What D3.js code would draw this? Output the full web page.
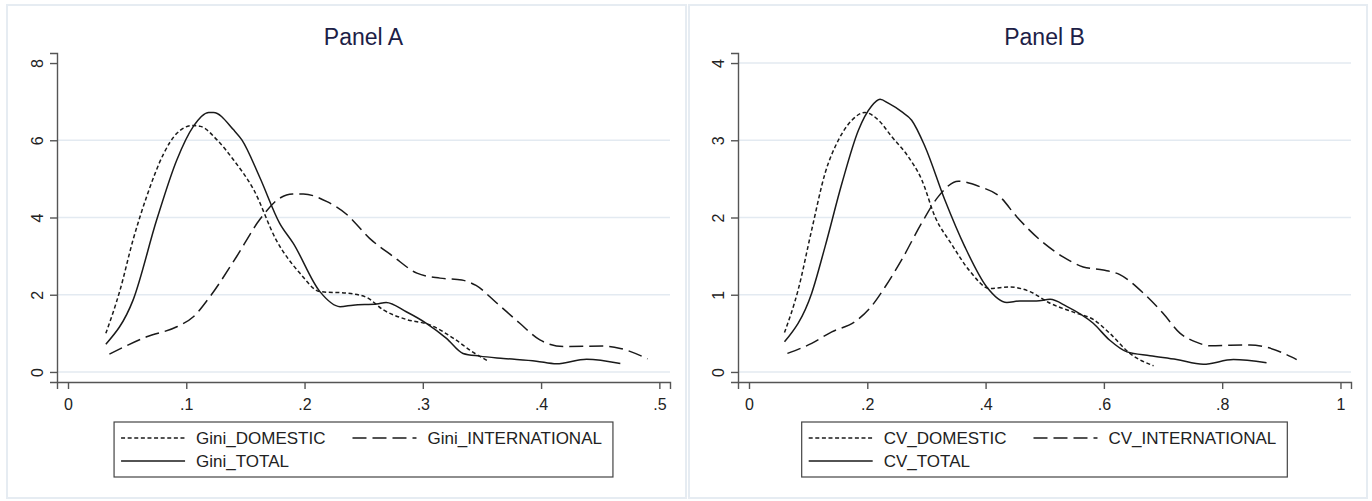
<!DOCTYPE html>
<html>
<head>
<meta charset="utf-8">
<script src="https://cdn.jsdelivr.net/npm/d3@7"></script>
<style>
  body { margin: 0; background: #fff; }
  svg { display: block; font-family: "Liberation Sans", Arial, sans-serif; }
</style>
</head>
<body>
<svg id="chart" width="1372" height="501"></svg>
<script>
// --- data: [x, density] ---
const giniDomestic = [[0.032,1.0],[0.044,2.12],[0.055,3.42],[0.0665,4.54],[0.081,5.66],[0.092,6.18],[0.105,6.38],[0.112,6.36],[0.126,6.01],[0.140,5.49],[0.157,4.72],[0.176,3.42],[0.196,2.56],[0.213,2.08],[0.236,2.04],[0.2525,1.93],[0.2665,1.61],[0.286,1.36],[0.306,1.22],[0.326,0.87],[0.343,0.50],[0.356,0.27]];
const giniInternational = [[0.035,0.46],[0.0665,0.91],[0.092,1.17],[0.106,1.43],[0.12,1.95],[0.1426,2.99],[0.162,3.94],[0.179,4.50],[0.19,4.61],[0.199,4.61],[0.219,4.41],[0.236,4.07],[0.255,3.46],[0.275,2.99],[0.295,2.56],[0.3145,2.43],[0.333,2.38],[0.345,2.24],[0.362,1.80],[0.382,1.26],[0.399,0.83],[0.419,0.66],[0.4525,0.67],[0.467,0.61],[0.49,0.34]];
const giniTotal = [[0.032,0.72],[0.055,1.86],[0.075,3.94],[0.092,5.49],[0.106,6.36],[0.119,6.72],[0.123,6.72],[0.140,6.27],[0.147,6.01],[0.162,5.05],[0.179,3.85],[0.1905,3.33],[0.213,2.08],[0.23,1.69],[0.241,1.73],[0.261,1.76],[0.269,1.80],[0.286,1.56],[0.303,1.26],[0.320,0.87],[0.334,0.48],[0.348,0.41],[0.368,0.35],[0.396,0.28],[0.413,0.21],[0.4385,0.33],[0.467,0.22]];

const cvDomestic = [[0.06,0.51],[0.083,1.06],[0.106,1.84],[0.1285,2.57],[0.151,3.0],[0.174,3.26],[0.196,3.36],[0.219,3.26],[0.241,3.05],[0.269,2.79],[0.292,2.49],[0.3145,2.01],[0.342,1.66],[0.374,1.30],[0.407,1.08],[0.441,1.10],[0.475,1.04],[0.509,0.89],[0.554,0.76],[0.582,0.68],[0.61,0.50],[0.644,0.24],[0.684,0.08]];
const cvInternational = [[0.065,0.24],[0.106,0.37],[0.14,0.52],[0.179,0.65],[0.207,0.85],[0.23,1.10],[0.258,1.45],[0.292,1.93],[0.32,2.27],[0.354,2.47],[0.39,2.40],[0.424,2.27],[0.4526,2.01],[0.492,1.71],[0.531,1.49],[0.565,1.36],[0.599,1.32],[0.627,1.26],[0.667,1.02],[0.70,0.76],[0.729,0.50],[0.755,0.39],[0.779,0.34],[0.847,0.35],[0.875,0.32],[0.926,0.16]];
const cvTotal = [[0.06,0.39],[0.106,1.02],[0.1285,1.62],[0.157,2.44],[0.185,3.13],[0.207,3.44],[0.2215,3.53],[0.2355,3.48],[0.258,3.37],[0.275,3.26],[0.2975,2.92],[0.331,2.23],[0.365,1.62],[0.402,1.10],[0.436,0.90],[0.458,0.92],[0.486,0.92],[0.509,0.94],[0.537,0.85],[0.582,0.63],[0.61,0.41],[0.639,0.26],[0.678,0.21],[0.723,0.16],[0.768,0.10],[0.819,0.16],[0.875,0.12]];

const titles = ["Panel A", "Panel B"];
const xTicksA = [0, 0.1, 0.2, 0.3, 0.4, 0.5];
const yTicksA = [0, 2, 4, 6, 8];
const gridA = [0, 2, 4, 6];
const xTicksB = [0, 0.2, 0.4, 0.6, 0.8, 1];
const yTicksB = [0, 1, 2, 3, 4];
const gridB = [0, 1, 2, 3, 4];
const legendA = ["Gini_DOMESTIC", "Gini_INTERNATIONAL", "Gini_TOTAL"];
const legendB = ["CV_DOMESTIC", "CV_INTERNATIONAL", "CV_TOTAL"];

const dashes = ["4,2.6", "14,6", null];
const ink = "#1a1a1a";

const svg = d3.select("#chart");

function tickFmt(d) {
  return String(d).replace(/^0\./, ".");
}

function drawPanel(opt) {
  const g = svg.append("g");

  // outer panel frame
  g.append("rect")
    .attr("x", opt.box[0]).attr("y", 5)
    .attr("width", opt.box[1] - opt.box[0]).attr("height", 493)
    .attr("fill", "#fff")
    .attr("stroke", "#e6ecf2")
    .attr("stroke-width", 2);

  const x = d3.scaleLinear().domain(opt.xDomain).range([opt.left, opt.left + 613]);
  const y = d3.scaleLinear().domain(opt.yDomain).range([382, 53]);

  // grid
  g.append("g")
    .selectAll("line")
    .data(opt.grid)
    .enter()
    .append("line")
    .attr("x1", x.range()[0]).attr("x2", x.range()[1])
    .attr("y1", (d) => y(d)).attr("y2", (d) => y(d))
    .style("stroke", "#e3eaf1")
    .style("stroke-width", 1.5);

  // axes
  const xAxis = g.append("g")
    .attr("transform", "translate(0,382)")
    .call(d3.axisBottom(x).tickValues(opt.xTicks).tickFormat(tickFmt).tickSize(7).tickPadding(10));
  const yAxis = g.append("g")
    .attr("transform", `translate(${opt.left},0)`)
    .call(d3.axisLeft(y).tickValues(opt.yTicks).tickFormat(tickFmt).tickSize(7));

  [xAxis, yAxis].forEach((a) => {
    a.select(".domain").attr("stroke", "#555").attr("stroke-width", 1.4);
    a.selectAll(".tick line").attr("stroke", "#555").attr("stroke-width", 1.4);
    a.selectAll("text")
      .attr("fill", "#222")
      .style("font-size", "16px")
      .style("font-family", '"Liberation Sans", Arial, sans-serif');
  });
  yAxis.selectAll(".tick text")
    .attr("x", null).attr("dy", null)
    .attr("text-anchor", "middle")
    .attr("transform", "translate(-14,0) rotate(-90)");

  // title
  g.append("text")
    .attr("x", (x.range()[0] + x.range()[1]) / 2)
    .attr("y", 45)
    .attr("text-anchor", "middle")
    .attr("fill", "#1c2046")
    .style("font-size", "23px")
    .text(opt.title);

  // curves
  const line = d3.line()
    .x((d) => x(d[0]))
    .y((d) => y(d[1]))
    .curve(d3.curveMonotoneX);

  opt.series.forEach((s, i) => {
    g.append("path")
      .datum(s)
      .attr("d", line)
      .attr("fill", "none")
      .attr("stroke", ink)
      .attr("stroke-width", 1.5)
      .attr("stroke-dasharray", dashes[i]);
  });

  // legend
  const leg = g.append("g");
  const rowY = [438, 461];
  const item = (lx, ly, i, label) => {
    leg.append("line")
      .attr("x1", lx).attr("x2", lx + 64)
      .attr("y1", ly).attr("y2", ly)
      .attr("stroke", ink)
      .attr("stroke-width", 1.5)
      .attr("stroke-dasharray", dashes[i]);
    return leg.append("text")
      .attr("x", lx + 75).attr("y", ly + 6)
      .attr("fill", "#222")
      .style("font-size", "17px")
      .text(label);
  };
  const t0 = item(0, rowY[0], 0, opt.legend[0]);
  item(0, rowY[1], 2, opt.legend[2]);
  const w0 = Math.max(t0.node().getComputedTextLength(), 0);
  const col2 = 75 + w0 + 27;
  const t1 = item(col2, rowY[0], 1, opt.legend[1]);
  const inner = col2 + 75 + t1.node().getComputedTextLength();
  const boxW = inner + 7 + 11;
  const bx = (x.range()[0] + x.range()[1]) / 2 - boxW / 2;
  leg.insert("rect", ":first-child")
    .attr("x", -7).attr("y", 422)
    .attr("width", boxW).attr("height", 55)
    .attr("fill", "#fff")
    .attr("stroke", "#444")
    .attr("stroke-width", 1.2);
  leg.attr("transform", `translate(${bx + 7},0)`);
}

drawPanel({
  box: [7, 686],
  left: 57,
  xDomain: [-0.0093, 0.509],
  yDomain: [-0.26, 8.26],
  xTicks: xTicksA, yTicks: yTicksA, grid: gridA,
  title: titles[0],
  series: [giniDomestic, giniInternational, giniTotal],
  legend: legendA,
});

drawPanel({
  box: [689, 1367],
  left: 738,
  xDomain: [-0.0186, 1.0178],
  yDomain: [-0.13, 4.13],
  xTicks: xTicksB, yTicks: yTicksB, grid: gridB,
  title: titles[1],
  series: [cvDomestic, cvInternational, cvTotal],
  legend: legendB,
});
</script>
</body>
</html>
